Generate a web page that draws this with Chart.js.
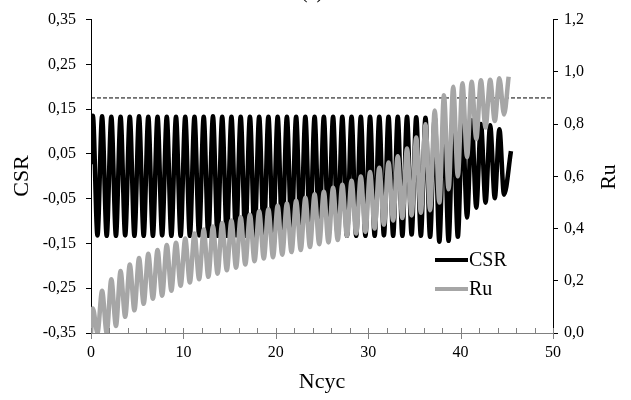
<!DOCTYPE html>
<html>
<head>
<meta charset="utf-8">
<script src="https://cdn.jsdelivr.net/npm/chart.js@4.4.1/dist/chart.umd.min.js"></script>
<style>
    html, body { margin: 0; padding: 0; background: #fff; }
    #wrap { width: 631px; height: 400px; }
</style>
</head>
<body>
<div id="wrap"><canvas id="myChart" width="631" height="400"></canvas></div>
<script>
// cycle number at each peak / trough of the loading
const cycleN = [0,
    0.2, 0.7, 1.2, 1.7, 2.2, 2.7, 3.2, 3.7, 4.2, 4.7, 5.2, 5.7, 6.2, 6.7, 7.2, 7.7, 8.2, 8.7, 9.2, 9.7,
    10.2, 10.7, 11.2, 11.7, 12.2, 12.7, 13.2, 13.7, 14.2, 14.7, 15.2, 15.7, 16.2, 16.7, 17.2, 17.7, 18.2, 18.7, 19.2, 19.7,
    20.2, 20.7, 21.2, 21.7, 22.2, 22.7, 23.2, 23.7, 24.2, 24.7, 25.2, 25.7, 26.2, 26.7, 27.2, 27.7, 28.2, 28.7, 29.2, 29.7,
    30.2, 30.7, 31.2, 31.7, 32.2, 32.7, 33.2, 33.7, 34.2, 34.7, 35.2, 35.7, 36.2, 36.7, 37.2, 37.7, 38.2, 38.7, 39.2, 39.7,
    40.2, 40.7, 41.2, 41.7, 42.2, 42.7, 43.2, 43.7, 44.2, 44.7];

const csrN = cycleN.concat([45.45]);
const csrValues = [0.027,
    0.135, -0.132, 0.134, -0.133, 0.133, -0.133, 0.133, -0.132, 0.133, -0.133, 0.134, -0.133, 0.133, -0.133, 0.133, -0.132, 0.133, -0.133, 0.133, -0.133,
    0.133, -0.133, 0.133, -0.132, 0.133, -0.133, 0.134, -0.133, 0.133, -0.133, 0.133, -0.132, 0.133, -0.133, 0.133, -0.133, 0.133, -0.133, 0.133, -0.132,
    0.133, -0.133, 0.133, -0.133, 0.133, -0.132, 0.133, -0.133, 0.133, -0.133, 0.133, -0.133, 0.133, -0.132, 0.133, -0.133, 0.133, -0.133, 0.133, -0.133,
    0.133, -0.133, 0.133, -0.132, 0.133, -0.133, 0.133, -0.133, 0.133, -0.130, 0.132, -0.133, 0.131, -0.135, 0.131, -0.146, 0.130, -0.144, 0.130, -0.135,
    0.128, -0.092, 0.125, -0.070, 0.117, -0.059, 0.114, -0.049, 0.105, -0.041,
    0.056];

const ruN = cycleN.concat([45.2]);
const ruValues = [0,
    0.094, 0, 0.162, 0, 0.206, 0.027, 0.237, 0.062, 0.262, 0.087, 0.287, 0.112, 0.303, 0.131, 0.318, 0.143, 0.337, 0.162, 0.346, 0.181,
    0.362, 0.193, 0.381, 0.206, 0.396, 0.215, 0.408, 0.227, 0.421, 0.240, 0.431, 0.250, 0.443, 0.262, 0.453, 0.275, 0.466, 0.285, 0.474, 0.290,
    0.487, 0.300, 0.496, 0.310, 0.506, 0.318, 0.518, 0.329, 0.531, 0.340, 0.541, 0.347, 0.556, 0.356, 0.568, 0.372, 0.583, 0.381, 0.599, 0.387,
    0.616, 0.400, 0.633, 0.415, 0.653, 0.431, 0.677, 0.440, 0.706, 0.450, 0.749, 0.460, 0.799, 0.470, 0.852, 0.500, 0.910, 0.550, 0.943, 0.600,
    0.956, 0.674, 0.962, 0.743, 0.968, 0.787, 0.970, 0.812, 0.975, 0.837,
    0.981];

const ruLimit = 0.9;

const xTicks = [0, 10, 20, 30, 40, 50];
const xMinorTicks = [2, 4, 6, 8, 12, 14, 16, 18, 22, 24, 26, 28, 32, 34, 36, 38, 42, 44, 46, 48];
const csrTicks = [-0.35, -0.25, -0.15, -0.05, 0.05, 0.15, 0.25, 0.35];
const ruTicks = [0, 0.2, 0.4, 0.6, 0.8, 1.0, 1.2];

const serif = '"Liberation Serif", "Times New Roman", serif';
const GREY = '#a6a6a6';

// x axis line, crossing major ticks, inside minor ticks, titles, legend
const decorPlugin = {
    id: 'decor',
    afterDraw(chart) {
        const ctx = chart.ctx;
        const area = chart.chartArea;
        const xs = chart.scales.x;
        ctx.save();
        ctx.strokeStyle = '#808080';
        ctx.lineWidth = 1;
        ctx.beginPath();
        ctx.moveTo(area.left, area.bottom + 0.5);
        ctx.lineTo(area.right, area.bottom + 0.5);
        xTicks.forEach(v => {
            const px = Math.round(xs.getPixelForValue(v)) + 0.5;
            ctx.moveTo(px, area.bottom - 5);
            ctx.lineTo(px, area.bottom + 6);
        });
        xMinorTicks.forEach(v => {
            const px = Math.round(xs.getPixelForValue(v)) + 0.5;
            ctx.moveTo(px, area.bottom - 5);
            ctx.lineTo(px, area.bottom);
        });
        ctx.stroke();

        ctx.fillStyle = '#000';
        ctx.font = '22px ' + serif;
        ctx.textAlign = 'center';
        ctx.textBaseline = 'middle';
        ctx.fillText('Ncyc', 322, 382);

        ctx.save();
        ctx.translate(22, 176);
        ctx.rotate(-Math.PI / 2);
        ctx.fillText('CSR', 0, 0);
        ctx.restore();

        ctx.save();
        ctx.translate(609, 177);
        ctx.rotate(-Math.PI / 2);
        ctx.fillText('Ru', 0, 0);
        ctx.restore();

        // title, mostly cut off at the top
        ctx.font = '20px ' + serif;
        ctx.textBaseline = 'alphabetic';
        ctx.fillText('(a)', 312, -2);

        // legend
        ctx.lineWidth = 4;
        ctx.strokeStyle = '#000';
        ctx.beginPath();
        ctx.moveTo(435, 260);
        ctx.lineTo(468, 260);
        ctx.stroke();
        ctx.strokeStyle = GREY;
        ctx.beginPath();
        ctx.moveTo(435, 289);
        ctx.lineTo(468, 289);
        ctx.stroke();
        ctx.textAlign = 'left';
        ctx.textBaseline = 'middle';
        ctx.fillText('CSR', 469, 261);
        ctx.fillText('Ru', 469, 290);
        ctx.restore();
    }
};

const ctx = document.getElementById('myChart');
const myChart = new Chart(ctx, {
    type: 'line',
    data: {
        datasets: [{
            label: 'Ru',
            data: ruN.map((n, i) => ({ x: n, y: ruValues[i] })),
            yAxisID: 'y2',
            borderColor: GREY,
            borderWidth: 4.5,
            pointRadius: 0,
            cubicInterpolationMode: 'monotone',
            order: 0
        }, {
            label: 'CSR',
            data: csrN.map((n, i) => ({ x: n, y: csrValues[i] })),
            yAxisID: 'y',
            borderColor: '#000',
            borderWidth: 4.5,
            pointRadius: 0,
            cubicInterpolationMode: 'monotone',
            order: 1
        }, {
            label: 'limit',
            data: [{ x: 0, y: ruLimit }, { x: 50, y: ruLimit }],
            yAxisID: 'y2',
            borderColor: '#000',
            borderWidth: 1,
            borderDash: [4, 2],
            pointRadius: 0,
            order: 2
        }]
    },
    options: {
        responsive: false,
        animation: false,
        devicePixelRatio: 1,
        layout: { padding: { top: 14, left: 0, right: 0, bottom: 0 } },
        plugins: {
            legend: { display: false },
            tooltip: { enabled: false }
        },
        scales: {
            x: {
                type: 'linear',
                min: 0,
                max: 50,
                afterBuildTicks: s => { s.ticks = xTicks.map(v => ({ value: v })); },
                afterFit: s => { s.height = 67; },
                grid: { display: false, drawTicks: false },
                border: { display: false },
                ticks: { color: '#000', font: { family: serif, size: 16 }, padding: 10, maxRotation: 0 }
            },
            y: {
                position: 'left',
                min: -0.35,
                max: 0.35,
                afterBuildTicks: s => { s.ticks = csrTicks.map(v => ({ value: v })); },
                afterFit: s => { s.width = 91; },
                grid: { drawOnChartArea: false, tickLength: 5, color: '#000' },
                border: { color: '#000', width: 1 },
                ticks: {
                    color: '#000', font: { family: serif, size: 16 }, padding: 10,
                    callback: v => v.toFixed(2).replace('.', ',')
                }
            },
            y2: {
                position: 'right',
                min: 0,
                max: 1.2,
                afterBuildTicks: s => { s.ticks = ruTicks.map(v => ({ value: v })); },
                afterFit: s => { s.width = 78; },
                grid: { drawOnChartArea: false, tickLength: 5, color: '#000' },
                border: { color: '#000', width: 1 },
                ticks: {
                    color: '#000', font: { family: serif, size: 16 }, padding: 6,
                    callback: v => v.toFixed(1).replace('.', ',')
                }
            }
        }
    },
    plugins: [decorPlugin]
});
</script>
</body>
</html>
